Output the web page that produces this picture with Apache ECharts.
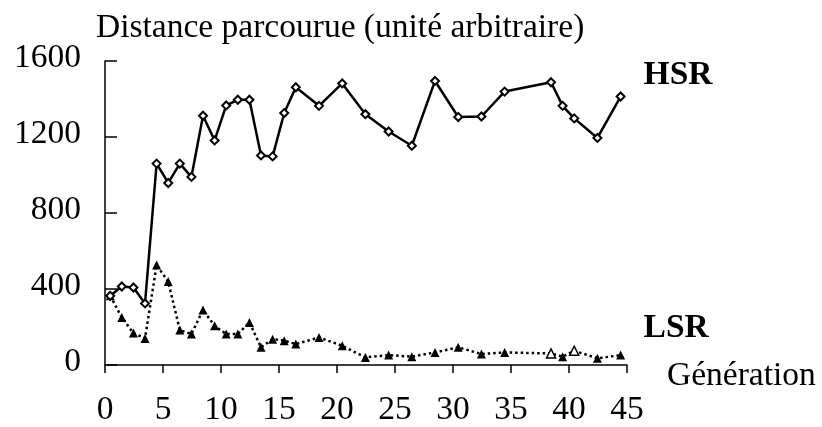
<!DOCTYPE html>
<html>
<head>
<meta charset="utf-8">
<script src="https://cdn.jsdelivr.net/npm/echarts@6/dist/echarts.min.js"></script>
<style>
  html, body { margin: 0; padding: 0; background: #fff; }
  #chart { width: 822px; height: 427px; }
</style>
</head>
<body>
<div id="chart"></div>
<script>
// generation (x) of each measurement
var generations = [0.45, 1.45, 2.45, 3.45, 4.45, 5.45, 6.45, 7.45, 8.45, 9.45,
	10.45, 11.45, 12.45, 13.45, 14.45, 15.45, 16.45, 18.45, 20.45, 22.45,
	24.45, 26.45, 28.45, 30.45, 32.45, 34.45, 38.45, 39.45, 40.45, 42.45, 44.45];

var hsrValues = [364, 413, 408, 324, 1060, 958, 1060, 990, 1312, 1182,
	1366, 1396, 1396, 1103, 1098, 1326, 1462, 1364, 1482, 1320,
	1229, 1154, 1495, 1305, 1308, 1439, 1488, 1364, 1298, 1195, 1413];

var lsrValues = [364, 250, 168, 140, 526, 439, 184, 163, 290, 206,
	163, 163, 224, 93, 136, 128, 110, 145, 101, 40,
	52, 44, 66, 93, 58, 66, 61, 44, 75, 35, 52];

var xTicks = [0, 45, 5];      // min, max, interval
var yTicks = [0, 1600, 400];

var pairUp = function(xs, ys) {
	var rtn = [];
	xs.forEach(function(x, i) {
		rtn.push([x, ys[i]]);
	});
	return rtn;
};

var FONT = '"Liberation Serif", "Times New Roman", serif';

var chart = echarts.init(document.getElementById('chart'));

// two LSR markers are drawn hollow in the original
var lsrHollow = [26, 28];
var lsrData = pairUp(generations, lsrValues).map(function(p, i) {
	if (lsrHollow.indexOf(i) >= 0) {
		return { value: p, itemStyle: { color: '#fff', borderColor: '#000', borderWidth: 1.5 } };
	}
	return { value: p };
});

var option = {
	animation: false,
	backgroundColor: '#fff',
	title: {
		text: 'Distance parcourue (unité arbitraire)',
		left: 91,
		top: 6,
		textStyle: { fontFamily: FONT, fontSize: 33.5, fontWeight: 'normal', color: '#000' }
	},
	grid: { left: 105, top: 61, width: 522, height: 305 },
	xAxis: {
		type: 'value',
		min: xTicks[0],
		max: xTicks[1],
		interval: xTicks[2],
		name: 'Génération',
		nameLocation: 'end',
		nameGap: 40,
		nameTextStyle: {
			fontFamily: FONT, fontSize: 33.5, color: '#000',
			verticalAlign: 'top', lineHeight: 22
		},
		axisLine: { lineStyle: { color: '#000', width: 1.5 } },
		axisTick: { length: 8, lineStyle: { color: '#000', width: 1.5 } },
		axisLabel: { fontFamily: FONT, fontSize: 33.5, color: '#000', margin: 28 },
		splitLine: { show: false }
	},
	yAxis: {
		type: 'value',
		min: yTicks[0],
		max: yTicks[1],
		interval: yTicks[2],
		axisLine: { show: true, lineStyle: { color: '#000', width: 1.5 } },
		axisTick: { show: true, inside: true, length: 12, lineStyle: { color: '#000', width: 1.5 } },
		axisLabel: {
			fontFamily: FONT, fontSize: 33.5, color: '#000', margin: 24,
			verticalAlign: 'bottom', lineHeight: 6,
			formatter: function(v) { return String(v); }
		},
		splitLine: { show: false }
	},
	series: [
		{
			name: 'HSR',
			type: 'line',
			data: pairUp(generations, hsrValues),
			symbol: 'diamond',
			symbolSize: 8,
			lineStyle: { color: '#000', width: 2.5 },
			itemStyle: { color: '#fff', borderColor: '#000', borderWidth: 2 },
			endLabel: {
				show: true,
				formatter: 'HSR',
				distance: 0,
				offset: [23, -21],
				fontFamily: FONT, fontSize: 33.5, fontWeight: 'bold', color: '#000'
			},
			z: 3
		},
		{
			name: 'LSR',
			type: 'line',
			data: lsrData,
			symbol: 'triangle',
			symbolSize: 9,
			lineStyle: { color: '#000', width: 2.5, type: [2.5, 3] },
			itemStyle: { color: '#000' },
			endLabel: {
				show: true,
				formatter: 'LSR',
				distance: 0,
				offset: [23, -27],
				fontFamily: FONT, fontSize: 33.5, fontWeight: 'bold', color: '#000'
			},
			z: 2
		}
	]
};
chart.setOption(option, true);
</script>
</body>
</html>
